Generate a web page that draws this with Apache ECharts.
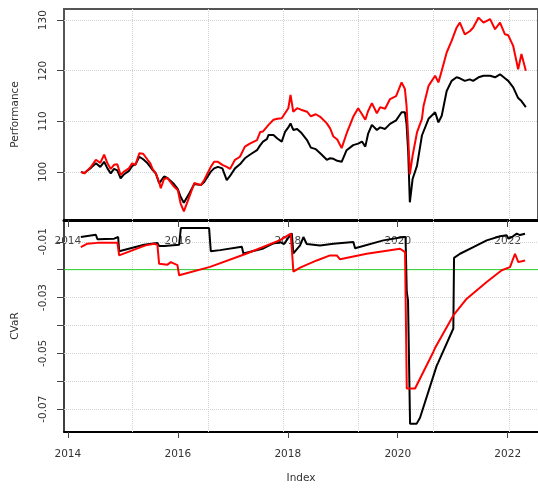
<!DOCTYPE html>
<html><head><meta charset="utf-8">
<script src="https://cdn.jsdelivr.net/npm/echarts@6/dist/echarts.min.js"></script>
<style>html,body{margin:0;padding:0;background:#fff}#c{width:538px;height:489px}</style>
</head><body><div id="c"></div><script>
// time in decimal years
const perfTime = [2014.24,2014.30,2014.42,2014.51,2014.59,2014.66,2014.72,2014.78,2014.84,2014.90,2014.96,2015.02,2015.11,2015.17,2015.23,2015.30,2015.37,2015.45,2015.50,2015.54,2015.60,2015.66,2015.69,2015.75,2015.81,2015.93,2016.00,2016.05,2016.11,2016.21,2016.30,2016.42,2016.48,2016.60,2016.66,2016.73,2016.81,2016.89,2016.95,2017.04,2017.13,2017.22,2017.31,2017.44,2017.50,2017.55,2017.62,2017.65,2017.74,2017.81,2017.89,2017.95,2018.01,2018.05,2018.10,2018.17,2018.24,2018.35,2018.42,2018.51,2018.59,2018.71,2018.77,2018.83,2018.90,2018.98,2019.07,2019.19,2019.28,2019.35,2019.41,2019.46,2019.53,2019.62,2019.68,2019.77,2019.86,2019.97,2020.07,2020.13,2020.16,2020.19,2020.22,2020.27,2020.35,2020.44,2020.47,2020.56,2020.68,2020.74,2020.80,2020.89,2020.98,2021.07,2021.13,2021.22,2021.31,2021.37,2021.47,2021.56,2021.68,2021.77,2021.86,2021.95,2022.01,2022.10,2022.19,2022.25,2022.33];
const perfBlack = [100,99.8,100.8,101.7,101.0,102.0,100.7,99.7,100.6,100.3,98.75,99.5,100.2,101.2,101.5,103.0,102.5,101.7,101.0,100.4,99.7,97.8,98.2,99.1,98.8,97.6,96.6,95.1,93.9,95.8,97.6,97.4,98.0,100.06,100.7,101.0,100.7,98.4,99.2,100.7,101.5,102.7,103.4,104.3,105.3,106.0,106.5,107.3,107.3,106.6,106.0,107.9,108.8,109.6,108.3,108.5,107.8,106.3,104.8,104.5,103.7,102.4,102.7,102.6,102.2,102.0,104.3,105.3,105.6,106.0,105.0,107.5,109.3,108.3,108.8,108.5,109.5,110.2,111.8,111.8,109.5,104,94.0,98.6,101.2,107.2,107.5,110.5,111.8,109.8,111.1,116.0,118.0,118.7,118.5,118.0,118.3,118.0,118.7,119.0,119.0,118.7,119.3,118.5,118.0,116.7,114.6,114.0,112.8];
const perfRed = [100,99.7,101.0,102.4,101.8,103.4,101.7,100.6,101.4,101.5,99.4,100.06,100.7,101.7,101.4,103.7,103.6,102.4,101.7,100.6,99.7,98.0,96.8,98.6,98.8,97.1,96.4,93.8,92.2,95.1,97.8,97.4,98.4,101.0,102.0,102.0,101.4,101.0,100.6,102.4,103.0,105.0,105.6,106.3,107.9,108.0,108.9,109.3,110.3,110.5,110.6,111.6,112.6,115.2,111.9,112.6,112.3,111.9,111.0,111.4,110.9,109.6,108.6,107.0,106.4,104.7,107.6,110.9,112.6,111.4,110.3,112.0,113.6,111.6,112.8,112.5,114.4,115.0,117.7,116.4,113.1,107,99.5,103.2,107.8,110.5,113.1,117.0,119.0,117.7,120.0,123.6,125.9,128.5,129.5,127.2,127.8,128.5,130.5,129.5,130.2,128.2,129.5,127.2,127.0,124.9,120.3,123.3,120.0];

const cvarBlackTime = [2014.236,2014.509,2014.538,2014.842,2014.873,2014.915,2014.933,2015.387,2015.418,2015.629,2015.660,2015.751,2016.024,2016.055,2016.569,2016.600,2016.769,2017.164,2017.193,2017.556,2017.738,2017.860,2017.933,2018.005,2018.073,2018.102,2018.224,2018.284,2018.345,2018.587,2018.829,2019.193,2019.224,2019.738,2020.102,2020.142,2020.164,2020.187,2020.224,2020.345,2020.405,2020.709,2020.733,2021.011,2021.024,2021.133,2021.375,2021.618,2021.860,2021.982,2022.011,2022.078,2022.164,2022.224,2022.315];
const cvarBlack = [-0.0083,-0.0075,-0.0091,-0.0089,-0.0083,-0.0083,-0.0134,-0.0111,-0.0104,-0.0104,-0.0115,-0.0115,-0.0111,-0.0051,-0.0051,-0.0134,-0.0130,-0.0118,-0.0142,-0.0124,-0.0106,-0.0101,-0.0108,-0.0087,-0.0070,-0.0142,-0.0113,-0.0083,-0.0108,-0.0113,-0.0107,-0.0101,-0.0123,-0.0095,-0.0083,-0.0083,-0.0280,-0.0310,-0.0752,-0.0752,-0.0731,-0.0544,-0.0534,-0.0411,-0.0158,-0.0143,-0.0119,-0.0095,-0.0080,-0.0077,-0.0089,-0.0083,-0.0071,-0.0076,-0.0071];
const cvarRedTime = [2014.236,2014.356,2014.538,2014.902,2014.933,2015.327,2015.418,2015.569,2015.629,2015.660,2015.811,2015.873,2015.993,2016.024,2016.587,2017.255,2017.860,2018.055,2018.078,2018.102,2018.224,2018.527,2018.769,2018.891,2018.951,2019.436,2020.042,2020.073,2020.133,2020.164,2020.315,2020.647,2020.678,2020.709,2021.011,2021.255,2021.618,2021.891,2021.924,2022.042,2022.133,2022.193,2022.315];
const cvarRed = [-0.0119,-0.0107,-0.0104,-0.0104,-0.0149,-0.0119,-0.0113,-0.0107,-0.0111,-0.0179,-0.0182,-0.0173,-0.0184,-0.0220,-0.0190,-0.0142,-0.0094,-0.0071,-0.0070,-0.0207,-0.0193,-0.0167,-0.0149,-0.0149,-0.0163,-0.0143,-0.0125,-0.0119,-0.0137,-0.0626,-0.0626,-0.0495,-0.0481,-0.0488,-0.0364,-0.0304,-0.0244,-0.0202,-0.0208,-0.0191,-0.0143,-0.0173,-0.0167];
const cvarLevel = -0.02;

const xTicks = [2014,2016,2018,2020,2022];
const gridYears = [2015.175,2016.545,2017.91,2019.28,2020.65,2022.015];
const perfTicks = [100,110,120,130];
const cvarTicks = [-0.01,-0.02,-0.03,-0.04,-0.05,-0.06,-0.07];
const cvarLabels = [-0.01,-0.03,-0.05,-0.07];
const cvarGrid = [-0.01,-0.03,-0.04,-0.05,-0.06,-0.07];

const X0 = 2013.93, X1 = 2022.551;
const font = 'DejaVu Sans';
const txt = {fontFamily: font, fontSize: 10.5, color: '#333'};
const gridLine = {color: '#d2d2d2', type: 'dotted', width: 1, opacity: 1};

function pairs(t, v){ return t.map((x,i)=>[x, v[i]]); }
function gridSeries(xi, yi, yVals){
  return {type:'line', xAxisIndex:xi, yAxisIndex:yi, data:[], z:1, silent:true,
    itemStyle:{color:'#d2d2d2'}, lineStyle:{color:'#d2d2d2'},
    markLine:{silent:true, z:1, symbol:'none', animation:false, label:{show:false}, lineStyle:gridLine,
      emphasis:{disabled:true},
      data: gridYears.map(v=>({xAxis:v, lineStyle:gridLine})).concat(yVals.map(v=>({yAxis:v, lineStyle:gridLine})))}};
}
function line(xi, yi, d, color, width, z){
  return {type:'line', xAxisIndex:xi, yAxisIndex:yi, data:d, showSymbol:false, symbol:'none',
    lineStyle:{color:color, width:width}, itemStyle:{color:color}, z:z, animation:false, silent:true};
}

const chart = echarts.init(document.getElementById('c'), null, {renderer:'canvas'});
chart.setOption({
  animation:false,
  backgroundColor:'#fff',
  grid:[
    {left:64, top:9, width:474, height:211, show:true, borderColor:'#555', borderWidth:2, backgroundColor:'transparent'},
    {left:64, top:220, width:474, height:212}
  ],
  xAxis:[
    {gridIndex:0, type:'value', min:X0, max:X1, show:false},
    {gridIndex:1, type:'value', min:X0, max:X1, position:'bottom',
      axisLine:{show:true, onZero:false, lineStyle:{color:'#000', width:2}},
      axisTick:{show:true, length:6, customValues:xTicks, lineStyle:{color:'#444'}},
      axisLabel:{show:true, customValues:xTicks, margin:17, formatter:v=>String(v), ...txt},
      splitLine:{show:false},
      name:'Index', nameLocation:'middle', nameGap:41, nameTextStyle:{...txt}},
    {gridIndex:1, type:'value', min:X0, max:X1, position:'top',
      axisLine:{show:true, onZero:false, lineStyle:{color:'#000', width:3}},
      axisTick:{show:true, inside:true, length:7, customValues:xTicks, lineStyle:{color:'#444'}},
      axisLabel:{show:true, inside:true, customValues:xTicks, margin:16, formatter:v=>String(v), ...txt, color:'#444'},
      splitLine:{show:false}}
  ],
  yAxis:[
    {gridIndex:0, type:'value', min:90.5, max:132.2,
      axisLine:{show:true, lineStyle:{color:'#555', width:1.5}},
      axisTick:{show:true, length:7, customValues:perfTicks, lineStyle:{color:'#444'}},
      axisLabel:{show:true, customValues:perfTicks, rotate:90, margin:15, formatter:v=>String(v), ...txt},
      splitLine:{show:false},
      name:'Performance', nameLocation:'middle', nameGap:43, nameTextStyle:{...txt}},
    {gridIndex:1, type:'value', min:-0.0782, max:-0.0022,
      axisLine:{show:true, lineStyle:{color:'#000', width:1.5}},
      axisTick:{show:true, length:7, customValues:cvarTicks, lineStyle:{color:'#444'}},
      axisLabel:{show:true, customValues:cvarLabels, rotate:90, margin:15, formatter:v=>v.toFixed(2), ...txt},
      splitLine:{show:false},
      name:'CVaR', nameLocation:'middle', nameGap:43, nameTextStyle:{...txt}}
  ],
  series:[
    gridSeries(0,0,perfTicks),
    gridSeries(1,1,cvarGrid),
    line(1,1,pairs([X0,X1],[cvarLevel,cvarLevel]),'#22cc22',1,2),
    line(0,0,pairs(perfTime,perfBlack),'#000000',2,3),
    line(0,0,pairs(perfTime,perfRed),'#ff0000',2,3),
    line(1,1,pairs(cvarBlackTime,cvarBlack),'#000000',2,3),
    line(1,1,pairs(cvarRedTime,cvarRed),'#ff0000',2,3)
  ]
});
</script></body></html>
